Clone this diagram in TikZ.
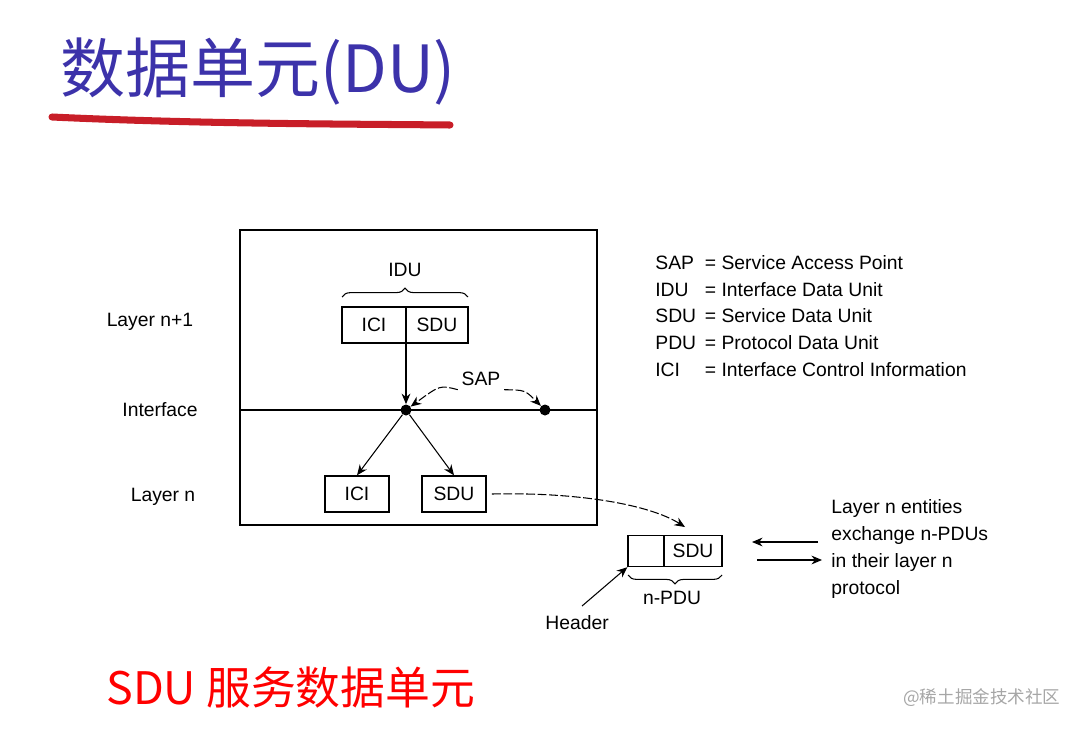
\documentclass[tikz,border=0pt]{standalone}
\usepackage{fontspec}
\setmainfont{Liberation Sans}
\newfontfamily\cjk{Noto Sans CJK SC}
\usetikzlibrary{arrows.meta,decorations.pathreplacing}
\definecolor{titleblue}{RGB}{60,50,170}
\definecolor{ulred}{RGB}{200,30,40}
\begin{document}
\begin{tikzpicture}[x=0.02cm,y=-0.02cm,
  lbl/.style={font=\fontsize{11}{13}\selectfont, inner sep=0pt},
  cell/.style={draw, thick, minimum height=0.72cm, font=\fontsize{11}{13}\selectfont, inner sep=0pt},
  dot/.style={circle, fill=black, minimum size=0.22cm, inner sep=0pt},
  arr/.style={-{Stealth[length=6pt,width=5pt]}, semithick},
  dsh/.style={dash pattern=on 5pt off 1.5pt},
  brc/.style={decorate, decoration={brace, amplitude=5pt}, semithick}]
\useasboundingbox (0,0) rectangle (1084,730);

% title
\node[text=titleblue, font=\cjk\fontsize{37}{40}\selectfont, anchor=west, inner sep=0pt] (title) at (60,72) {数据单元(DU)};
\draw[ulred, line width=4pt, line cap=round] (52,117) .. controls (200,124) and (350,124) .. (450,125);

% layer frame
\draw[thick] (240,230) rectangle (597,525);
\coordinate (il) at (240,410);
\coordinate (ir) at (597,410);
\draw[thick] (il) -- (ir);

% layer labels
\node[lbl] (ln1) at (150,322) {Layer n+1};
\node[lbl] (intf) at (160,410) {Interface};
\node[lbl] (ln) at (163,497) {Layer n};

% upper IDU
\node[cell, minimum width=1.28cm] (tici) at (374,325) {ICI};
\node[cell, minimum width=1.24cm] (tsdu) at (437,325) {SDU};
\draw[brc] (342,297) -- (468,297);
\node[lbl] (idu) at (405,270) {IDU};

% SAP points
\node[dot] (sap1) at (406,410) {};
\node[dot] (sap2) at (545,410) {};
\node[lbl, inner sep=2pt] (sap) at (481,379) {SAP};
\draw[arr, dsh] (sap.south west) .. controls (440,385) .. (sap1);
\draw[arr, dsh] (sap.south east) .. controls (525,390) .. (sap2);
\draw[arr] (406,343) -- (sap1);

% lower ICI / SDU
\node[cell, minimum width=1.28cm] (bici) at (357,494) {ICI};
\node[cell, minimum width=1.28cm] (bsdu) at (454,494) {SDU};
\draw[arr] (sap1) -- (bici.north);
\draw[arr] (sap1) -- (bsdu.north);

% n-PDU
\node[cell, minimum width=0.72cm, minimum height=0.62cm] (hdr) at (646,551) {};
\node[cell, minimum width=1.16cm, minimum height=0.62cm] (psdu) at (693,551) {SDU};
\draw[arr, dsh] ([xshift=3pt]bsdu.east) .. controls (580,492) and (650,505) .. (685,527);
\draw[brc] (722,575) -- (628,575);
\node[lbl] (npdu) at (672,598) {n-PDU};
\node[lbl] (header) at (577,623) {Header};
\draw[arr] (582,606) -- (hdr.south west);

% exchange arrows
\coordinate (ea) at (818,542);
\coordinate (eb) at (752,542);
\coordinate (ec) at (757,560);
\coordinate (ed) at (822,560);
\draw[arr] (ea) -- (eb);
\draw[arr] (ec) -- (ed);
\node[lbl, anchor=north west, align=left, font=\fontsize{11}{15.3}\selectfont] (ent) at (831,499) {Layer n entities\\exchange n-PDUs\\in their layer n\\protocol};

% legend
\node[lbl, anchor=north west, font=\fontsize{11}{15.3}\selectfont] (leg) at (655,250)
 {\renewcommand{\arraystretch}{1}\begin{tabular}{@{}l@{\hspace{5pt}}l@{}}
 SAP & = Service Access Point\\ IDU & = Interface Data Unit\\ SDU & = Service Data Unit\\
 PDU & = Protocol Data Unit\\ ICI & = Interface Control Information\end{tabular}};

% footer
\node[text=red, font=\cjk\fontsize{25.5}{28}\selectfont, anchor=west, inner sep=0pt] (foot) at (106,688) {SDU 服务数据单元};
\node[text=gray!70, font=\cjk\fontsize{10}{12}\selectfont, anchor=west, inner sep=0pt] (wm) at (903,698) {@稀土掘金技术社区};
\end{tikzpicture}
\end{document}
